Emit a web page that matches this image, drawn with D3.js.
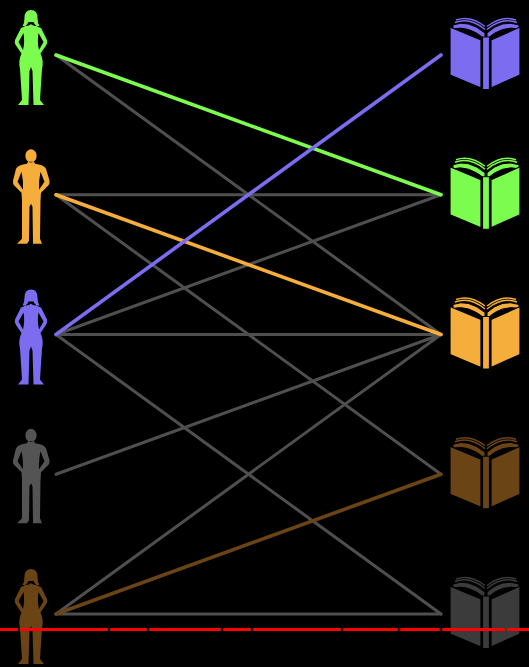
<!DOCTYPE html>
<html>
<head>
<meta charset="utf-8">
<script src="https://cdn.jsdelivr.net/npm/d3@7"></script>
<style>
  html, body { margin: 0; padding: 0; background: #000; }
</style>
</head>
<body>
<div id="wrapper"></div>
<script>
// readers on the left, books on the right
const people = ["green", "orange", "purple", "gray", "brown"];
const peopleKind = ["f", "m", "f", "m", "f"];
const books = ["purple", "green", "orange", "brown", "gray"];
const palette = {
    green: "#7dfc50",
    orange: "#f5ad3c",
    purple: "#7b6cf0",
    gray: "#545454",
    brown: "#6b4416"
};
const bookGray = "#3b3b3b";
// [person, book]
const links = [
    [0, 1], [0, 2],
    [1, 1], [1, 2], [1, 3],
    [2, 0], [2, 1], [2, 2], [2, 4],
    [3, 2],
    [4, 2], [4, 3], [4, 4]
];
// where the red rule is broken
const ruleBreaks = [19, 109, 148, 222, 252, 342, 399, 441, 506];

function buildPlot() {
    var dimension = {
        width: 529,
        height: 667,
        margin: { top: 55, left: 56, bottom: 53, right: 88 }
    };

    const svg = d3.select("#wrapper").append("svg")
        .attr("width", dimension.width)
        .attr("height", dimension.height)
        .style("display", "block")
        .style("background", "#000");

    const yMan = d3.scalePoint()
        .domain(d3.range(people.length))
        .range([dimension.margin.top, dimension.height - dimension.margin.bottom]);
    const xMan = d3.scalePoint()
        .domain(["reader", "book"])
        .range([dimension.margin.left, dimension.width - dimension.margin.right]);

    const hot = (l) => people[l[0]] === books[l[1]];
    const lineGen = d3.line();

    const edges = svg.append("g");
    edges.selectAll("path")
        .data(links.slice().sort((a, b) => hot(a) - hot(b)))
        .join("path")
        .attr("d", l => lineGen([[xMan("reader"), yMan(l[0])], [xMan("book"), yMan(l[1])]]))
        .attr("fill", "none")
        .attr("stroke", l => hot(l) ? palette[people[l[0]]] : "#4f4f4f")
        .attr("stroke-width", l => hot(l) ? 3.6 : 3)
        .attr("stroke-linecap", "round");

    // people silhouettes
    const male = "M15 13 L21 13 L22 15 Q31 16 33 20 L36.5 32 Q37 35 35 37 L28 44 L27.5 52 L27 90 L29 95 L20 95 L19.5 58 L18 55 L16.5 58 L16 92 L14 95 L4 95 L9 90 L9 52 L8.5 44 L1.5 37 Q-0.5 35 0 32 L3 20 Q5 16 14 15 Z " +
        "M8.5 23 L4.5 33 L10 41 Q10.5 32 8.5 23 Z M27.5 23 L31.5 33 L26 41 Q25.5 32 27.5 23 Z " +
        "M18 0.5 A5.6 6.6 0 1 1 17.99 0.5 Z";
    const female = "M15.5 13 L20.5 13 Q22 17 28 19 L34 31 Q35 34 33 36.5 L27.5 44.5 Q31 52 29 60 L27 91 L31 96 L20.5 96 L19.5 62 L18 58 L16.5 62 L15.5 96 L5 96 L9 91 L7 60 Q5 52 8.5 44.5 L3 36.5 Q1 34 2 31 L8 19 Q14 17 15.5 13 Z " +
        "M10.5 24 L5.5 33 L10 41 Q12 33 10.5 24 Z M25.5 24 L30.5 33 L26 41 Q24 33 25.5 24 Z " +
        "M18 1 Q24.5 1 24.5 9 Q24.5 14 26.5 17 Q20 17.5 18 15 Q16 17.5 9.5 17 Q11.5 14 11.5 9 Q11.5 1 18 1 Z";

    svg.append("g").selectAll("path")
        .data(people)
        .join("path")
        .attr("transform", (d, i) => `translate(13, ${yMan(i) - 46})`)
        .attr("d", (d, i) => peopleKind[i] === "f" ? female : male)
        .attr("fill-rule", "evenodd")
        .attr("fill", d => palette[d]);

    // open books
    const bookG = svg.append("g").selectAll("g")
        .data(books)
        .join("g")
        .attr("transform", (d, i) => `translate(440, ${yMan(i) - 40})`);
    const bookFill = d => d === "gray" ? bookGray : palette[d];

    bookG.append("path")
        .attr("d", "M13 10 Q28 4 45 18 L45 24 Q28 10 13 14 Z M79 10 Q62 4 47 18 L47 24 Q62 10 79 14 Z")
        .attr("fill", bookFill)
        .attr("stroke", "#000")
        .attr("stroke-width", 1);
    bookG.append("path")
        .attr("d", "M15 7.5 Q30 2 45 14.5 M77 7.5 Q62 2 47 14.5 M16 5 Q30 0 45 11.5 M76 5 Q62 0 47 11.5")
        .attr("fill", "none")
        .attr("stroke", bookFill)
        .attr("stroke-width", 1.4);
    bookG.append("path")
        .attr("d", "M10 12 L41 25 L41 73 L10 60 Z M51 25 L80 12 L80 60 L51 73 Z M42.5 22 L49.5 22 L49.5 74.5 L42.5 74.5 Z")
        .attr("fill", bookFill)
        .attr("stroke", "#000")
        .attr("stroke-width", 1.2)
        .attr("stroke-linejoin", "round");

    // red rule along the bottom
    const cuts = [0].concat(ruleBreaks, [dimension.width]);
    const segs = d3.pairs(cuts).map((p, i) => [p[0] + (i ? 1.2 : 0), p[1] - (i < cuts.length - 2 ? 1.2 : 0)]);
    svg.append("g").selectAll("line")
        .data(segs)
        .join("line")
        .attr("x1", d => d[0])
        .attr("x2", d => d[1])
        .attr("y1", 629.5)
        .attr("y2", 629.5)
        .attr("stroke", "#ff0000")
        .attr("stroke-width", 3);
}

buildPlot();
</script>
</body>
</html>
